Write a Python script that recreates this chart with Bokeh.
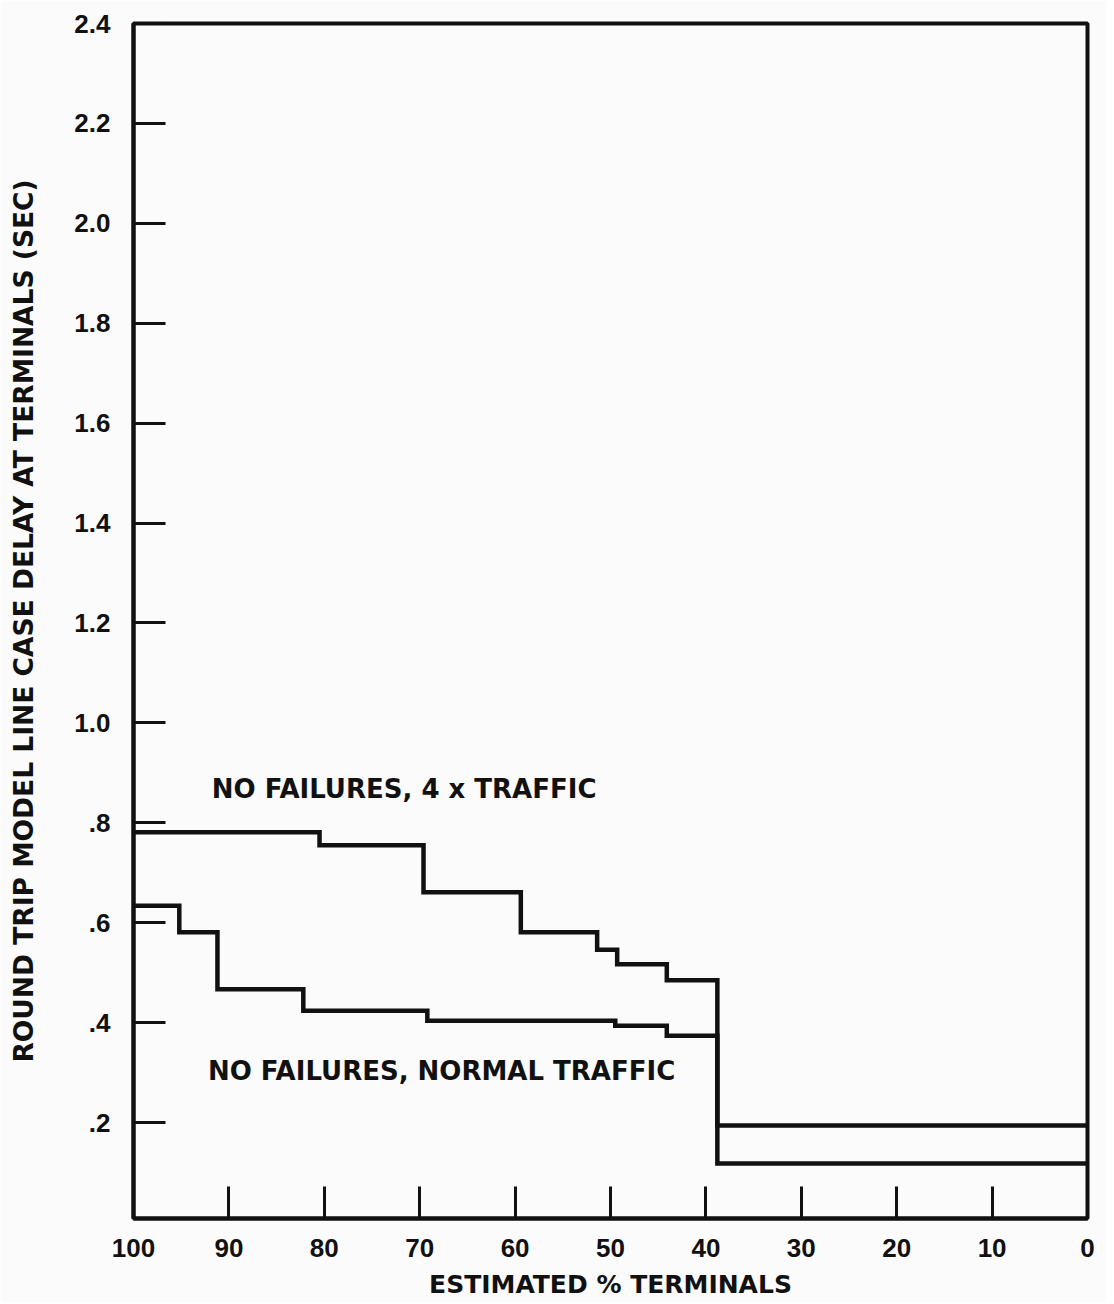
from bokeh.plotting import figure
from bokeh.models import Range1d, FixedTicker
from bokeh.core.properties import value
from bokeh.embed import file_html
from bokeh.resources import INLINE

# ---- data ----
# step curves: value holds from x[i] toward x[i+1] (x runs 100 -> 0)
x_4x = [100, 80.5, 69.6, 59.4, 51.4, 49.3, 44.1, 38.8, 0]
y_4x = [0.781, 0.755, 0.661, 0.581, 0.546, 0.517, 0.485, 0.194, 0.194]

x_normal = [100, 95.2, 91.2, 82.2, 69.2, 49.5, 44.1, 38.8, 0]
y_normal = [0.634, 0.581, 0.467, 0.424, 0.404, 0.394, 0.374, 0.118, 0.118]

x_ticks = [100, 90, 80, 70, 60, 50, 40, 30, 20, 10, 0]
x_tick_labels = ["100", "90", "80", "70", "60", "50", "40", "30", "20", "10", "0"]
y_ticks = [0.2, 0.4, 0.6, 0.8, 1.0, 1.2, 1.4, 1.6, 1.8, 2.0, 2.2, 2.4]
y_tick_labels = [".2", ".4", ".6", ".8", "1.0", "1.2", "1.4", "1.6", "1.8", "2.0", "2.2", "2.4"]

label_texts = ["NO FAILURES, 4 x TRAFFIC", "NO FAILURES, NORMAL TRAFFIC"]
label_x = [91.8, 92.2]
label_y = [0.868, 0.304]

x_title = "ESTIMATED % TERMINALS"
y_title = "ROUND TRIP MODEL LINE CASE DELAY AT TERMINALS (SEC)"

BG = "#fbfbfb"
INK = "#111111"

p = figure(
    frame_width=954, frame_height=1195,
    min_border_left=133, min_border_right=19,
    min_border_top=23, min_border_bottom=84,
    x_range=Range1d(100, 0), y_range=Range1d(0.008, 2.4),
    output_backend="svg", toolbar_location=None,
    background_fill_color=BG, border_fill_color=BG,
)
p.grid.visible = False
p.outline_line_color = INK
p.outline_line_width = 4

for ax in (p.xaxis[0], p.yaxis[0]):
    ax.axis_line_color = INK
    ax.axis_line_width = 4
    ax.major_tick_line_color = INK
    ax.major_tick_line_width = 3
    ax.major_tick_in = 32
    ax.major_tick_out = 0
    ax.minor_tick_line_color = None
    ax.major_label_text_font = "Liberation Sans"
    ax.major_label_text_font_style = "bold"
    ax.major_label_text_font_size = "26px"
    ax.major_label_text_color = INK
    ax.axis_label_text_font = "DejaVu Sans"
    ax.axis_label_text_font_style = "bold"
    ax.axis_label_text_color = INK

p.xaxis.ticker = FixedTicker(ticks=x_ticks)
p.xaxis.major_label_overrides = dict(zip(x_ticks, x_tick_labels))
p.xaxis.major_label_standoff = 20
p.xaxis.axis_label = x_title
p.xaxis.axis_label_text_font_size = "25px"
p.xaxis.axis_label_standoff = 10

p.yaxis.ticker = FixedTicker(ticks=y_ticks)
p.yaxis.major_label_overrides = dict(zip(y_ticks, y_tick_labels))
p.yaxis.major_label_standoff = 23
p.yaxis.axis_label = y_title
p.yaxis.axis_label_text_font_size = "26.5px"
p.yaxis.axis_label_standoff = 32

p.step(x_4x, y_4x, mode="after", line_color=INK, line_width=4.5, line_join="miter")
p.step(x_normal, y_normal, mode="after", line_color=INK, line_width=4.5, line_join="miter")

p.text(x=label_x, y=label_y, text=label_texts,
       text_font=value("DejaVu Sans"), text_font_style="bold",
       text_font_size="26px", text_color=INK,
       text_align="left", text_baseline="middle")

open("out.html", "w").write(file_html(p, INLINE))
